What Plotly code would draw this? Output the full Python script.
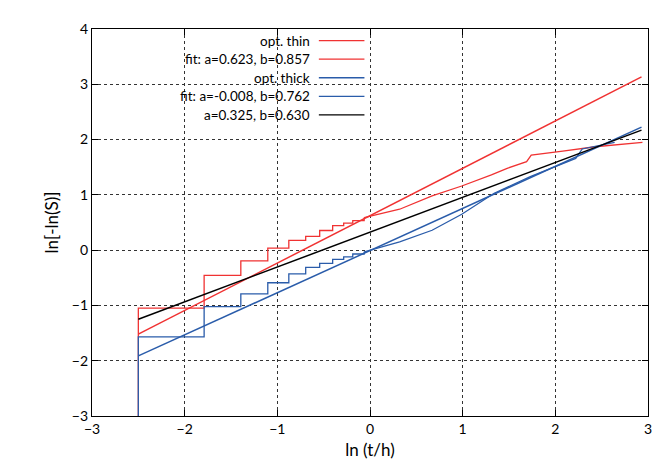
import numpy as np
import plotly.graph_objects as go

# stepped part of the survival data (x = ln(t/h), level after each x)
thin_step_x = [-2.5, -2.5, -1.79, -1.394, -1.103, -0.876, -0.694, -0.543, -0.403, -0.284, -0.186, -0.063]
thin_step_y = [-3.0, -1.05, -0.456, -0.195, 0.036, 0.178, 0.249, 0.355, 0.444, 0.49, 0.533, 0.59]
thin_tail_x = [-0.063, 0.32, 0.67, 0.99, 1.31, 1.48, 1.69, 1.74, 2.08, 2.43, 2.94]
thin_tail_y = [0.59, 0.74, 0.98, 1.16, 1.36, 1.48, 1.60, 1.72, 1.79, 1.87, 1.95]

thick_step_x = [-2.5, -2.5, -1.79, -1.394, -1.103, -0.876, -0.694, -0.543, -0.403, -0.284, -0.186, -0.063]
thick_step_y = [-3.0, -1.57, -1.02, -0.79, -0.59, -0.43, -0.31, -0.24, -0.166, -0.12, -0.07, -0.03]
thick_tail_x = [-0.063, 0.0, 0.32, 0.67, 0.99, 1.34, 1.73, 2.22, 2.29, 2.64]
thick_tail_y = [-0.03, 0.0, 0.15, 0.36, 0.65, 1.03, 1.33, 1.66, 1.83, 1.95]

fits = [
    ("fit: a=0.623, b=0.857", 0.623, 0.857, "#f03232"),
    ("fit: a=-0.008, b=0.762", -0.008, 0.762, "#2a5caa"),
    ("a=0.325, b=0.630", 0.325, 0.630, "black"),
]
fit_x = np.array([-2.5, 2.93])

RED, BLUE = "#f03232", "#2a5caa"

fig = go.Figure()
fig.add_trace(go.Scatter(x=thin_step_x, y=thin_step_y, mode="lines", line=dict(color=RED, width=1.3, shape="hv")))
fig.add_trace(go.Scatter(x=thin_tail_x, y=thin_tail_y, mode="lines", line=dict(color=RED, width=1.3)))
fig.add_trace(go.Scatter(x=thick_step_x, y=thick_step_y, mode="lines", line=dict(color=BLUE, width=1.3, shape="hv")))
fig.add_trace(go.Scatter(x=thick_tail_x, y=thick_tail_y, mode="lines", line=dict(color=BLUE, width=1.3)))
for name, a, b, c in fits:
    fig.add_trace(go.Scatter(x=fit_x, y=a + b * fit_x, mode="lines", line=dict(color=c, width=1.5)))

# gnuplot-style legend: right-aligned text, sample line to the right
legend_items = [("opt. thin", RED), ("fit: a=0.623, b=0.857", RED), ("opt. thick", BLUE),
                ("fit: a=-0.008, b=0.762", BLUE), ("a=0.325, b=0.630", "black")]
for i, (txt, c) in enumerate(legend_items):
    yy = 0.97 - i * 0.048
    fig.add_annotation(x=0.395, y=yy, xref="paper", yref="paper", text=txt, showarrow=False,
                       xanchor="right", yanchor="middle", font=dict(size=13.5, color="black"))
    fig.add_shape(type="line", xref="paper", yref="paper", x0=0.408, x1=0.49, y0=yy, y1=yy,
                  line=dict(color=c, width=1.3))

axis = dict(showline=True, mirror="ticks", linecolor="black", linewidth=1.2, ticks="inside",
            ticklen=6, tickcolor="black", showgrid=True, gridcolor="#333", griddash="dot",
            gridwidth=1, zeroline=False, tickfont=dict(size=14), dtick=1)
fig.update_layout(
    width=667, height=468, showlegend=False,
    plot_bgcolor="white", paper_bgcolor="white",
    font=dict(family="Lato", color="black", size=14),
    margin=dict(l=84, r=27, t=15, b=60),
    xaxis=dict(axis, range=[-3, 3], title=dict(text="ln (t/h)", standoff=8)),
    yaxis=dict(axis, range=[-3, 4], title=dict(text="ln[-ln(S)]", standoff=8)),
)
fig.write_html("out.html")
